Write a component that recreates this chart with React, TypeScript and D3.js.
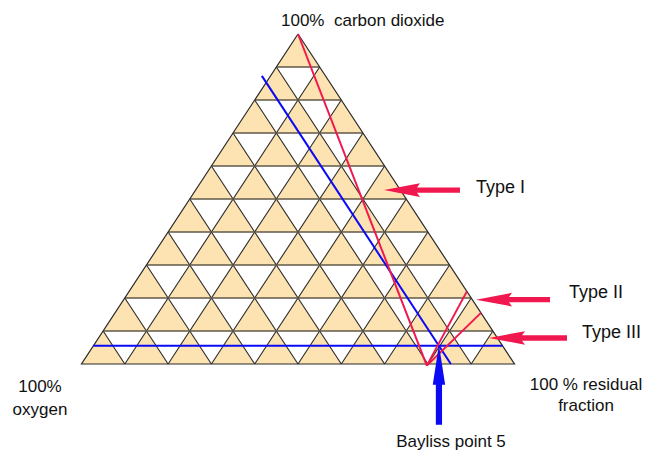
import React from "react";
import * as d3 from "d3";

// Ternary diagram: carbon dioxide (apex), oxygen (bottom left), residual fraction (bottom right).
// Points are given as [co2, residual] in percent; oxygen = 100 - co2 - residual.

const GRID_STEPS = 10;

const apexLabel = "100%  carbon dioxide";
const leftLabel = ["100%", "oxygen"];
const rightLabel = ["100 % residual", "fraction"];
const pointLabel = "Bayliss point 5";

const typeNames = ["Type I", "Type II", "Type III"];
// red trajectories, [co2, residual]
const typeLines: [number, number][][] = [
  [[100, 0], [-0.5, 80]],
  [[-0.5, 80], [22, 78]],
  [[-0.5, 80], [15.5, 84.5]],
];
// co2 level each arrow points at
const typeArrowCo2 = [52.7, 19.5, 7.9];

// Bayliss point 5 composition
const baylissCo2 = 5.5;
const baylissOxygen = 14.7;

// blue construction lines through the point, [co2, residual]
const blueLines: [number, number][][] = [
  [[baylissCo2, 0], [baylissCo2, 100 - baylissCo2]],
  [[87.3, 100 - 87.3 - baylissOxygen], [0, 100 - baylissOxygen]],
];

const W = 655;
const H = 452;
const FONT = "'Liberation Sans', Arial, Helvetica, sans-serif";
const TAN = "#FDE2B2";
const RED = "#F0184E";
const BLUE = "#0A0AF5";

const yScale = d3.scaleLinear().domain([0, 100]).range([364, 34]);
const xScale = d3.scaleLinear().domain([0, 100]).range([81.5, 514.5]);
const project = ([c, r]: [number, number]): [number, number] => [xScale(r + c / 2), yScale(c)];

const line = d3.line<[number, number]>().x((d) => project(d)[0]).y((d) => project(d)[1]);

export default function App() {
  const step = 100 / GRID_STEPS;
  const ticks = d3.range(0, GRID_STEPS + 1).map((i) => i * step);

  // upward cells
  const cells: [number, number][][] = [];
  for (let i = 0; i < GRID_STEPS; i++) {
    for (let j = 0; j < GRID_STEPS - i; j++) {
      const c = i * step;
      const r = j * step;
      cells.push([[c + step, r], [c, r], [c, r + step]]);
    }
  }

  const inner = ticks.slice(1, -1);
  // horizontal lines (constant co2)
  const hLines = inner.map((c) => [[c, 0], [c, 100 - c]] as [number, number][]);
  // constant residual lines
  const rLines = inner.map((r) => [[0, r], [100 - r, r]] as [number, number][]);
  // constant oxygen lines
  const oLines = inner.map((o) => [[0, 100 - o], [100 - o, 0]] as [number, number][]);
  const border: [number, number][] = [[100, 0], [0, 0], [0, 100], [100, 0]];

  const redArrow = (tipX: number, tailX: number, y: number) => {
    const hl = 36, hw = 6.8, sw = 2.7;
    return `M${tipX},${y} L${tipX + hl},${y - hw} L${tipX + hl - 3},${y - sw} L${tailX},${y - sw} L${tailX},${y + sw} L${tipX + hl - 3},${y + sw} L${tipX + hl},${y + hw} Z`;
  };
  const arrowX = [
    [384, 460],
    [476, 550],
    [489, 567],
  ];
  const textPos = [
    [476, 193],
    [569, 298],
    [582, 338],
  ];

  const bp = project([baylissCo2, 100 - baylissCo2 - baylissOxygen]);
  const bx = bp[0];
  const by = bp[1] - 1;
  const blueArrow = `M${bx},${by} L${bx + 6.2},${by + 40} L${bx + 3.1},${by + 40} L${bx + 3.1},${by + 80} L${bx - 3.1},${by + 80} L${bx - 3.1},${by + 40} L${bx - 6.2},${by + 40} Z`;

  return (
    <svg width={W} height={H} style={{ position: "absolute", left: 0, top: 0, background: "#fff" }}>
      <g>
        {cells.map((cell, i) => (
          <path key={i} d={line(cell)! + "Z"} fill={TAN} stroke="none" />
        ))}
      </g>
      <g fill="none">
        {rLines.concat(oLines).map((l, i) => (
          <path key={i} d={line(l)!} stroke="#2a2a2a" strokeWidth={1.1} />
        ))}
        {hLines.map((l, i) => (
          <path key={i} d={line(l)!} stroke="#5f5847" strokeWidth={1.7} />
        ))}
        <path d={line(border)!} stroke="#2a2a2a" strokeWidth={1.2} strokeLinejoin="miter" />
      </g>
      <g fill="none" strokeWidth={2}>
        {blueLines.map((l, i) => (
          <path key={i} d={line(l)!} stroke={BLUE} />
        ))}
        {typeLines.map((l, i) => (
          <path key={i} d={line(l)!} stroke={RED} />
        ))}
      </g>
      <g fill={RED}>
        {typeArrowCo2.map((c, i) => (
          <path key={i} d={redArrow(arrowX[i][0], arrowX[i][1], yScale(c))} />
        ))}
      </g>
      <path d={blueArrow} fill={BLUE} />
      <g fontFamily={FONT} fontSize={17} fill="#111">
        <text x={281} y={26} style={{ whiteSpace: "pre" }}>{apexLabel}</text>
        <text x={40} y={392} textAnchor="middle">{leftLabel[0]}</text>
        <text x={40} y={415} textAnchor="middle">{leftLabel[1]}</text>
        <text x={586} y={390} textAnchor="middle">{rightLabel[0]}</text>
        <text x={586} y={411} textAnchor="middle">{rightLabel[1]}</text>
        <text x={451} y={447} textAnchor="middle">{pointLabel}</text>
        {typeNames.map((t, i) => (
          <text key={t} x={textPos[i][0]} y={textPos[i][1]} fontSize={18}>{t}</text>
        ))}
      </g>
    </svg>
  );
}
